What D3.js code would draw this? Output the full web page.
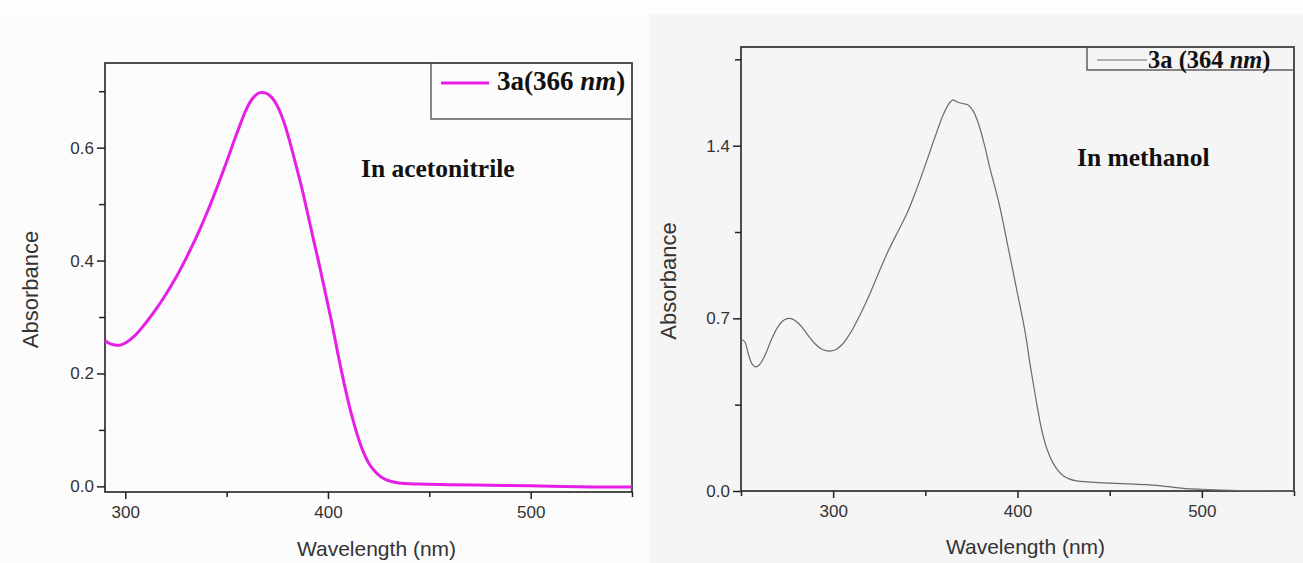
<!DOCTYPE html>
<html>
<head>
<meta charset="utf-8">
<script src="https://cdn.jsdelivr.net/npm/d3@7"></script>
<style>
  html, body { margin: 0; padding: 0; background: #fdfdfd; }
  svg { display: block; }
  .tick text { font-family: "Liberation Sans", Arial, sans-serif; fill: #333; }
  .serif { font-family: "Liberation Serif", "Times New Roman", serif; font-weight: bold; fill: #111; }
  .sans { font-family: "Liberation Sans", Arial, sans-serif; fill: #333; }
</style>
</head>
<body>
<svg id="chart" width="1303" height="563"></svg>
<script>
// UV-Vis absorption of compound 3a in acetonitrile (left) and methanol (right)
const acnWavelength = [290, 293, 297, 300, 305, 310, 315, 320, 325, 330, 335, 340, 345, 350, 355, 360, 363, 366, 369, 372, 375, 378, 381, 384, 387, 390, 393, 396, 399, 402, 405, 408, 411, 414, 417, 420, 423, 426, 430, 435, 445, 460, 480, 500, 510, 530, 550];
const acnAbsorbance = [0.258, 0.252, 0.250, 0.254, 0.268, 0.289, 0.313, 0.340, 0.370, 0.404, 0.441, 0.482, 0.527, 0.575, 0.625, 0.670, 0.688, 0.697, 0.697, 0.690, 0.674, 0.648, 0.613, 0.572, 0.530, 0.483, 0.435, 0.388, 0.338, 0.288, 0.233, 0.182, 0.136, 0.097, 0.065, 0.042, 0.027, 0.017, 0.010, 0.006, 0.004, 0.003, 0.002, 0.001, 0.0, -0.001, -0.001];

const meohWavelength = [250, 252, 254, 256, 258, 260, 263, 266, 269, 272, 275, 278, 281, 284, 287, 290, 293, 296, 299, 302, 305, 308, 311, 314, 317, 320, 325, 330, 335, 340, 345, 350, 355, 360, 363, 365, 367, 370, 373, 376, 379, 382, 385, 390, 395, 400, 404, 407, 410, 413, 416, 419, 422, 425, 428, 432, 440, 450, 460, 470, 480, 490, 500, 510, 520, 535, 550];
const meohAbsorbance = [0.616, 0.605, 0.555, 0.515, 0.503, 0.512, 0.550, 0.605, 0.652, 0.685, 0.699, 0.697, 0.681, 0.655, 0.625, 0.598, 0.579, 0.569, 0.568, 0.576, 0.595, 0.625, 0.662, 0.705, 0.752, 0.801, 0.890, 0.975, 1.050, 1.125, 1.218, 1.322, 1.430, 1.530, 1.572, 1.586, 1.578, 1.571, 1.566, 1.540, 1.485, 1.405, 1.310, 1.165, 0.985, 0.800, 0.650, 0.505, 0.372, 0.252, 0.170, 0.117, 0.083, 0.061, 0.049, 0.041, 0.036, 0.032, 0.029, 0.026, 0.019, 0.011, 0.007, 0.004, 0.002, 0.001, 0.0];

const acnXTicks = [300, 400, 500];
const acnXMinor = [350, 450, 550];
const acnYTicks = [0.0, 0.2, 0.4, 0.6];
const acnYMinor = [0.1, 0.3, 0.5, 0.7];
const meohXTicks = [300, 400, 500];
const meohXMinor = [250, 350, 450, 550];
const meohYTicks = [0.0, 0.7, 1.4];
const meohYMinor = [0.35, 1.05, 1.75];

const panels = [
  {
    wl: acnWavelength, ab: acnAbsorbance,
    xDomain: [290, 550], yDomain: [-0.01, 0.75],
    box: { left: 105, right: 632, top: 63, bottom: 492 },
    xTicks: acnXTicks, xMinor: acnXMinor, yTicks: acnYTicks, yMinor: acnYMinor,
    color: "#e61ee6", width: 3,
    solvent: "In acetonitrile", solventPos: [361, 177],
    legend: { prefix: "3a(366 ", unit: "nm", suffix: ")", x0: 431, y1: 119, lx0: 441, lx1: 489, ly: 83, tx: 497, ty: 90, size: 27 },
    titleY: 556, yTitleX: 38, bg: "#fcfcfc", bgX: 0
  },
  {
    wl: meohWavelength, ab: meohAbsorbance,
    xDomain: [250, 550], yDomain: [0, 1.8],
    box: { left: 741, right: 1294, top: 47, bottom: 491 },
    xTicks: meohXTicks, xMinor: meohXMinor, yTicks: meohYTicks, yMinor: meohYMinor,
    color: "#6a6a6a", width: 1.2,
    solvent: "In methanol", solventPos: [1077, 166],
    legend: { prefix: "3a (364 ", unit: "nm", suffix: ")", x0: 1087, y1: 70, lx0: 1097, lx1: 1147, ly: 60, tx: 1148, ty: 67.5, size: 24.5 },
    titleY: 554, yTitleX: 676, bg: "#f5f5f5", bgX: 650
  }
];

const svg = d3.select("#chart");
svg.append("rect").attr("width", 1303).attr("height", 563).attr("fill", "#fdfdfd");

panels.forEach(p => {
  const b = p.box;
  const x = d3.scaleLinear().domain(p.xDomain).range([b.left, b.right]);
  const y = d3.scaleLinear().domain(p.yDomain).range([b.bottom, b.top]);

  svg.append("rect").attr("x", p.bgX).attr("y", 14).attr("width", 653).attr("height", 549).attr("fill", p.bg);

  // frame
  svg.append("rect")
    .attr("x", b.left).attr("y", b.top)
    .attr("width", b.right - b.left).attr("height", b.bottom - b.top)
    .attr("fill", "none").attr("stroke", "#222").attr("stroke-width", 1.6);

  // axes: major ticks with labels, then unlabeled minor ticks
  const fmt = d3.format(".1f");
  svg.append("g").attr("transform", `translate(0,${b.bottom})`)
    .call(d3.axisBottom(x).tickValues(p.xTicks).tickSize(7).tickPadding(7).tickSizeOuter(0));
  svg.append("g").attr("transform", `translate(0,${b.bottom})`)
    .call(d3.axisBottom(x).tickValues(p.xMinor).tickSize(5).tickFormat("").tickSizeOuter(0));
  svg.append("g").attr("transform", `translate(${b.left},0)`)
    .call(d3.axisLeft(y).tickValues(p.yTicks).tickFormat(fmt).tickSize(8).tickPadding(3).tickSizeOuter(0));
  svg.append("g").attr("transform", `translate(${b.left},0)`)
    .call(d3.axisLeft(y).tickValues(p.yMinor).tickSize(6).tickFormat("").tickSizeOuter(0));

  svg.selectAll(".domain").attr("stroke", "none");
  svg.selectAll(".tick line").attr("stroke", "#222").attr("stroke-width", 1.5);
  svg.selectAll(".tick text").style("font-size", "17px");

  // spectrum
  const line = d3.line().x((d, i) => x(p.wl[i])).y(d => y(d)).curve(d3.curveCatmullRom.alpha(0.5));
  svg.append("path").datum(p.ab)
    .attr("d", line)
    .attr("fill", "none").attr("stroke", p.color).attr("stroke-width", p.width)
    .attr("stroke-linejoin", "round");

  // legend
  const L = p.legend;
  svg.append("rect")
    .attr("x", L.x0).attr("y", b.top)
    .attr("width", b.right - L.x0).attr("height", L.y1 - b.top)
    .attr("fill", "none").attr("stroke", "#555").attr("stroke-width", 1.4);
  svg.append("line")
    .attr("x1", L.lx0).attr("x2", L.lx1).attr("y1", L.ly).attr("y2", L.ly)
    .attr("stroke", p.color).attr("stroke-width", p.width);
  const lt = svg.append("text").attr("class", "serif")
    .attr("x", L.tx).attr("y", L.ty).style("font-size", L.size + "px");
  lt.append("tspan").text(L.prefix);
  lt.append("tspan").style("font-style", "italic").text(L.unit);
  lt.append("tspan").text(L.suffix);

  // solvent annotation
  svg.append("text").attr("class", "serif")
    .attr("x", p.solventPos[0]).attr("y", p.solventPos[1])
    .style("font-size", "25.5px").text(p.solvent);

  // axis titles
  svg.append("text").attr("class", "sans")
    .attr("x", (b.left + b.right) / 2 + 8).attr("y", p.titleY)
    .attr("text-anchor", "middle").style("font-size", "21px")
    .text("Wavelength (nm)");
  svg.append("text").attr("class", "sans")
    .attr("transform", `translate(${p.yTitleX},${(b.top + b.bottom) / 2 + 12}) rotate(-90)`)
    .attr("text-anchor", "middle").style("font-size", "22px")
    .text("Absorbance");
});
</script>
</body>
</html>
